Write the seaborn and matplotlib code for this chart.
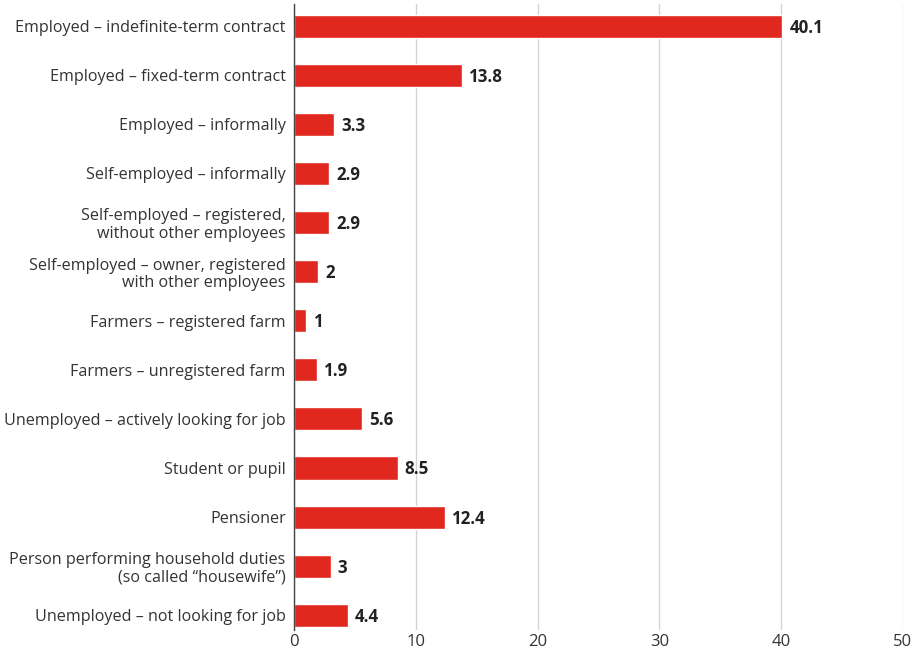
import matplotlib
matplotlib.use("Agg")
import matplotlib.pyplot as plt
import seaborn as sns
import pandas as pd

categories = [
    "Employed – indefinite-term contract",
    "Employed – fixed-term contract",
    "Employed – informally",
    "Self-employed – informally",
    "Self-employed – registered,\nwithout other employees",
    "Self-employed – owner, registered\nwith other employees",
    "Farmers – registered farm",
    "Farmers – unregistered farm",
    "Unemployed – actively looking for job",
    "Student or pupil",
    "Pensioner",
    "Person performing household duties\n(so called “housewife”)",
    "Unemployed – not looking for job",
]
values = [40.1, 13.8, 3.3, 2.9, 2.9, 2, 1, 1.9, 5.6, 8.5, 12.4, 3, 4.4]
value_labels = ["40.1", "13.8", "3.3", "2.9", "2.9", "2", "1", "1.9", "5.6", "8.5", "12.4", "3", "4.4"]
x_ticks = [0, 10, 20, 30, 40, 50]

df = pd.DataFrame({"category": categories, "value": values})

sns.set_theme(style="white")
plt.rcParams["font.family"] = ["Open Sans", "DejaVu Sans"]

fig = plt.figure(figsize=(9.12, 6.56), dpi=100)
ax = fig.add_axes([294 / 912, 1 - 630 / 656, (903 - 294) / 912, (630 - 4) / 656])

sns.barplot(data=df, x="value", y="category", color="#e1281e", width=0.47,
            saturation=1, ax=ax, zorder=3)

for i, (v, lab) in enumerate(zip(values, value_labels)):
    ax.text(v + 0.6, i + 0.03, lab, va="center", ha="left", fontsize=12.2,
            fontweight="bold", color="#222222")

ax.set_xlim(0, 50)
ax.set_ylim(12.3, -0.45)
ax.set_xticks(x_ticks)
ax.set_xticklabels([str(t) for t in x_ticks])
ax.xaxis.grid(True, color="#d4d4d4", linewidth=1, zorder=0)
ax.yaxis.grid(False)
ax.set_xlabel("")
ax.set_ylabel("")
for side in ["top", "right", "bottom"]:
    ax.spines[side].set_visible(False)
ax.spines["left"].set_color("#444444")
ax.spines["left"].set_linewidth(1)
ax.spines["left"].set_zorder(4)
ax.tick_params(axis="y", length=0, labelsize=11.6, colors="#333333", pad=6)
ax.tick_params(axis="x", length=0, labelsize=12, colors="#333333", pad=3)
for t in ax.get_yticklabels():
    t.set_linespacing(1.15)

fig.savefig("out.png", dpi=100)
